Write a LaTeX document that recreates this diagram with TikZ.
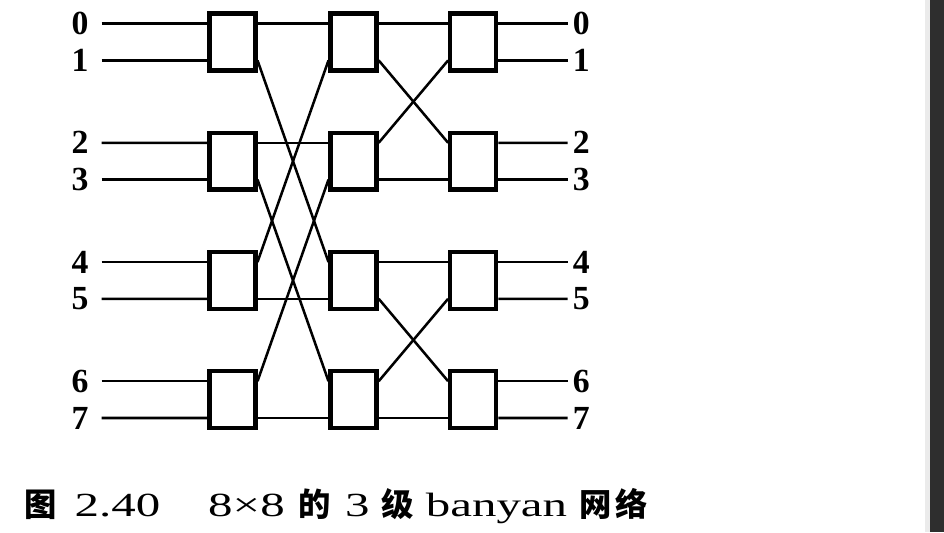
\documentclass[tikz,border=0pt]{standalone}
\usepackage{fontspec}
\setmainfont{Liberation Serif}
\newfontfamily\cjk{Noto Sans CJK SC}
\newfontfamily\wideserif[FakeStretch=1.45]{Liberation Serif}
\usepackage{tikz}
\usetikzlibrary{positioning}

\begin{document}
\begin{tikzpicture}[
  switchbox/.style={draw, line width=3pt, minimum width=1.15cm, minimum height=1.42cm, inner sep=0pt},
  wire/.style={line width=1.8pt},
  inlbl/.style={font=\fontsize{24}{28}\selectfont\bfseries, inner ysep=0pt, inner xsep=0.32cm},
  outlbl/.style={font=\fontsize{24}{28}\selectfont\bfseries, inner ysep=0pt, inner xsep=0.12cm}]
\useasboundingbox (0, 0) rectangle (23.6, 13.3);
% Page edge
\fill[black!8] (23.125, 0) rectangle (23.25, 13.3);
\fill[black!82] (23.25, 0) rectangle (23.6, 13.3);
% Stage 1
\node[switchbox] (s1b0) at (5.81, 12.25) {};
\node[switchbox] (s1b1) at (5.81, 9.27) {};
\node[switchbox] (s1b2) at (5.81, 6.29) {};
\node[switchbox] (s1b3) at (5.81, 3.31) {};
% Stage 2
\node[switchbox] (s2b0) at (8.84, 12.25) {};
\node[switchbox] (s2b1) at (8.84, 9.27) {};
\node[switchbox] (s2b2) at (8.84, 6.29) {};
\node[switchbox] (s2b3) at (8.84, 3.31) {};
% Stage 3
\node[switchbox] (s3b0) at (11.83, 12.25) {};
\node[switchbox] (s3b1) at (11.83, 9.27) {};
\node[switchbox] (s3b2) at (11.83, 6.29) {};
\node[switchbox] (s3b3) at (11.83, 3.31) {};
%
% Input labels
\node[inlbl] (in0) at (2.0, 12.71) {0};
\node[inlbl] (in1) at (2.0, 11.79) {1};
\node[inlbl] (in2) at (2.0, 9.73) {2};
\node[inlbl] (in3) at (2.0, 8.81) {3};
\node[inlbl] (in4) at (2.0, 6.75) {4};
\node[inlbl] (in5) at (2.0, 5.83) {5};
\node[inlbl] (in6) at (2.0, 3.77) {6};
\node[inlbl] (in7) at (2.0, 2.85) {7};
% Output labels
\node[outlbl] (out0) at (14.53, 12.71) {0};
\node[outlbl] (out1) at (14.53, 11.79) {1};
\node[outlbl] (out2) at (14.53, 9.73) {2};
\node[outlbl] (out3) at (14.53, 8.81) {3};
\node[outlbl] (out4) at (14.53, 6.75) {4};
\node[outlbl] (out5) at (14.53, 5.83) {5};
\node[outlbl] (out6) at (14.53, 3.77) {6};
\node[outlbl] (out7) at (14.53, 2.85) {7};
%
% Input lines
\draw[wire] (in0.east) -- ([yshift=0.46cm]s1b0.west);
\draw[wire] (in1.east) -- ([yshift=-0.46cm]s1b0.west);
\draw[wire] (in2.east) -- ([yshift=0.46cm]s1b1.west);
\draw[wire] (in3.east) -- ([yshift=-0.46cm]s1b1.west);
\draw[wire] (in4.east) -- ([yshift=0.46cm]s1b2.west);
\draw[wire] (in5.east) -- ([yshift=-0.46cm]s1b2.west);
\draw[wire] (in6.east) -- ([yshift=0.46cm]s1b3.west);
\draw[wire] (in7.east) -- ([yshift=-0.46cm]s1b3.west);
% Stage 1 to stage 2
\draw[wire] ([yshift=0.46cm]s1b0.east) -- ([yshift=0.46cm]s2b0.west);
\draw[wire] ([yshift=-0.46cm]s1b0.east) -- ([yshift=0.46cm]s2b2.west);
\draw[wire] ([yshift=0.46cm]s1b1.east) -- ([yshift=0.46cm]s2b1.west);
\draw[wire] ([yshift=-0.46cm]s1b1.east) -- ([yshift=0.46cm]s2b3.west);
\draw[wire] ([yshift=0.46cm]s1b2.east) -- ([yshift=-0.46cm]s2b0.west);
\draw[wire] ([yshift=-0.46cm]s1b2.east) -- ([yshift=-0.46cm]s2b2.west);
\draw[wire] ([yshift=0.46cm]s1b3.east) -- ([yshift=-0.46cm]s2b1.west);
\draw[wire] ([yshift=-0.46cm]s1b3.east) -- ([yshift=-0.46cm]s2b3.west);
% Stage 2 to stage 3
\draw[wire] ([yshift=0.46cm]s2b0.east) -- ([yshift=0.46cm]s3b0.west);
\draw[wire] ([yshift=-0.46cm]s2b0.east) -- ([yshift=0.46cm]s3b1.west);
\draw[wire] ([yshift=0.46cm]s2b1.east) -- ([yshift=-0.46cm]s3b0.west);
\draw[wire] ([yshift=-0.46cm]s2b1.east) -- ([yshift=-0.46cm]s3b1.west);
\draw[wire] ([yshift=0.46cm]s2b2.east) -- ([yshift=0.46cm]s3b2.west);
\draw[wire] ([yshift=-0.46cm]s2b2.east) -- ([yshift=0.46cm]s3b3.west);
\draw[wire] ([yshift=0.46cm]s2b3.east) -- ([yshift=-0.46cm]s3b2.west);
\draw[wire] ([yshift=-0.46cm]s2b3.east) -- ([yshift=-0.46cm]s3b3.west);
% Output lines
\draw[wire] ([yshift=0.46cm]s3b0.east) -- (out0.west);
\draw[wire] ([yshift=-0.46cm]s3b0.east) -- (out1.west);
\draw[wire] ([yshift=0.46cm]s3b1.east) -- (out2.west);
\draw[wire] ([yshift=-0.46cm]s3b1.east) -- (out3.west);
\draw[wire] ([yshift=0.46cm]s3b2.east) -- (out4.west);
\draw[wire] ([yshift=-0.46cm]s3b2.east) -- (out5.west);
\draw[wire] ([yshift=0.46cm]s3b3.east) -- (out6.west);
\draw[wire] ([yshift=-0.46cm]s3b3.east) -- (out7.west);
%
% Caption
\node[anchor=base west, inner sep=0pt, font=\fontsize{24}{28}\selectfont\wideserif] (cap) at (0.6, 0.38)
  {{\fontsize{23}{26}\selectfont\cjk\bfseries 图}\hspace{0.45cm}2.40\hspace{1.2cm}8×8\hspace{0.35cm}{\fontsize{23}{26}\selectfont\cjk\bfseries 的}\hspace{0.35cm}3\hspace{0.3cm}{\fontsize{23}{26}\selectfont\cjk\bfseries 级}\hspace{0.3cm}banyan\hspace{0.3cm}{\fontsize{23}{26}\selectfont\cjk\bfseries 网\hspace{0.1cm}络}};
\end{tikzpicture}
\end{document}
